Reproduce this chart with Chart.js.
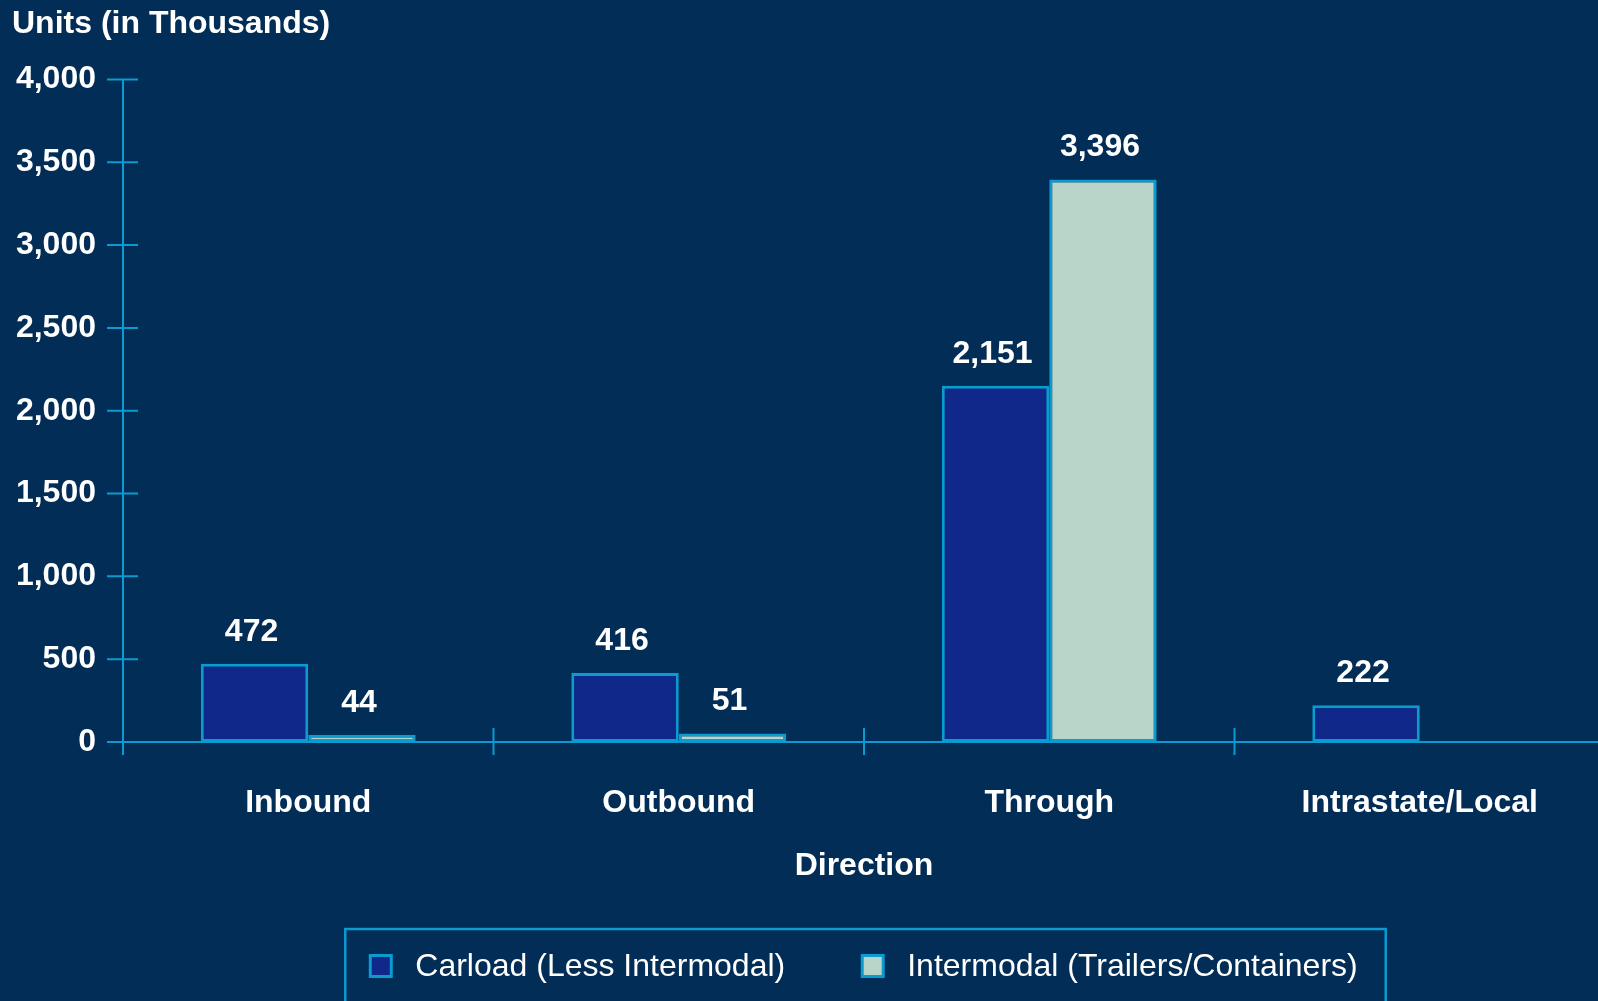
<!DOCTYPE html>
<html>
<head>
<meta charset="utf-8">
<script src="https://cdn.jsdelivr.net/npm/chart.js@4/dist/chart.umd.min.js"></script>
<style>
  html, body { margin: 0; padding: 0; background: #022d56; overflow: hidden; }
  #wrap { width: 1598px; height: 1001px; overflow: hidden; }
</style>
</head>
<body>
<div id="wrap"><canvas id="chart" width="1605" height="1001"></canvas></div>
<script>
// data
const categories = ["Inbound", "Outbound", "Through", "Intrastate/Local"];
const seriesNames = ["Carload (Less Intermodal)", "Intermodal (Trailers/Containers)"];
const carload = [472, 416, 2151, 222];
const intermodal = [44, 51, 3396, null];
const yMax = 4000;
const yStep = 500;

const lineColor = "#0a9bd0";
const barColors = ["#10288a", "#b9d5ca"];
const fontFamily = "'Liberation Sans', Arial, sans-serif";

function fmt(v) {
  return Number(v).toLocaleString("en-US");
}

// axis lines with ticks crossing them, like the original
const axesPlugin = {
  id: "axesPlugin",
  beforeDatasetsDraw(chart) {
    const ctx = chart.ctx;
    const area = chart.chartArea;
    const y = chart.scales.y;
    const x = chart.scales.x;
    const y0 = y.getPixelForValue(0);
    ctx.save();
    ctx.strokeStyle = lineColor;
    ctx.lineWidth = 2;
    ctx.beginPath();
    ctx.moveTo(area.left, y.getPixelForValue(yMax));
    ctx.lineTo(area.left, y0 + 13);
    ctx.moveTo(area.left, y0);
    ctx.lineTo(chart.width, y0);
    for (let v = 0; v <= yMax; v += yStep) {
      const py = y.getPixelForValue(v);
      ctx.moveTo(area.left - 16, py);
      ctx.lineTo(area.left + 15, py);
    }
    for (let i = 1; i < categories.length; i++) {
      const px = (x.getPixelForValue(i - 1) + x.getPixelForValue(i)) / 2;
      ctx.moveTo(px, y0 - 14);
      ctx.lineTo(px, y0 + 13);
    }
    ctx.stroke();
    ctx.restore();
  }
};

// value labels over the bars
const valueLabels = {
  id: "valueLabels",
  afterDatasetsDraw(chart) {
    const ctx = chart.ctx;
    ctx.save();
    ctx.fillStyle = "#ffffff";
    ctx.font = "bold 32px " + fontFamily;
    ctx.textAlign = "center";
    ctx.textBaseline = "middle";
    chart.data.datasets.forEach((ds, i) => {
      const meta = chart.getDatasetMeta(i);
      meta.data.forEach((bar, j) => {
        if (ds.data[j] == null) return;
        ctx.fillText(fmt(ds.data[j]), bar.x - 3, bar.y - 32);
      });
    });
    ctx.restore();
  }
};

// boxed legend at the bottom
const boxLegend = {
  id: "boxLegend",
  afterDraw(chart) {
    const ctx = chart.ctx;
    const area = chart.chartArea;
    ctx.save();
    ctx.font = "32px " + fontFamily;
    const sq = 21, gapText = 24, gapItem = 77, padL = 25, padR = 28;
    const w1 = ctx.measureText(seriesNames[0]).width;
    const w2 = ctx.measureText(seriesNames[1]).width;
    const total = sq + gapText + w1 + gapItem + sq + gapText + w2;
    const cx = (area.left + area.right) / 2;
    const left = cx - total / 2;
    const cy = 966;

    ctx.strokeStyle = lineColor;
    ctx.lineWidth = 2.5;
    ctx.strokeRect(left - padL, 929, total + padL + padR, 90);

    let px = left;
    [w1, w2].forEach((w, i) => {
      ctx.fillStyle = barColors[i];
      ctx.fillRect(px, cy - sq / 2, sq, sq);
      ctx.lineWidth = 3;
      ctx.strokeRect(px, cy - sq / 2, sq, sq);
      px += sq + gapText;
      ctx.fillStyle = "#ffffff";
      ctx.textAlign = "left";
      ctx.textBaseline = "middle";
      ctx.fillText(seriesNames[i], px, cy + 1);
      px += w + gapItem;
    });
    ctx.restore();
  }
};

new Chart(document.getElementById("chart"), {
  type: "bar",
  data: {
    labels: categories,
    datasets: [
      {
        label: seriesNames[0],
        data: carload,
        backgroundColor: barColors[0],
        borderColor: lineColor,
        borderWidth: 3,
        borderSkipped: false,
      },
      {
        label: seriesNames[1],
        data: intermodal,
        backgroundColor: barColors[1],
        borderColor: lineColor,
        borderWidth: 3,
        borderSkipped: false,
      },
    ],
  },
  options: {
    responsive: false,
    animation: false,
    devicePixelRatio: 1,
    layout: { padding: { left: 12, right: 0, top: 0, bottom: 109 } },
    datasets: { bar: { categoryPercentage: 0.58, barPercentage: 1.0 } },
    plugins: {
      legend: { display: false },
      tooltip: { enabled: false },
      title: {
        display: true,
        text: "Units (in Thousands)",
        align: "start",
        color: "#ffffff",
        font: { family: fontFamily, size: 32, weight: "bold" },
        padding: { top: 5, bottom: 36 },
      },
    },
    scales: {
      x: {
        afterFit(scale) { scale.height = 150; },
        grid: { display: false, drawTicks: false, tickLength: 0 },
        border: { display: false },
        ticks: {
          color: "#ffffff",
          padding: 42,
          font: { family: fontFamily, size: 32, weight: "bold" },
        },
        title: {
          display: true,
          text: "Direction",
          color: "#ffffff",
          font: { family: fontFamily, size: 32, weight: "bold" },
          padding: { top: 22, bottom: 7 },
        },
      },
      y: {
        min: 0,
        max: yMax,
        afterFit(scale) { scale.width = 111; },
        grid: { display: false, drawTicks: false, tickLength: 0 },
        border: { display: false },
        ticks: {
          stepSize: yStep,
          color: "#ffffff",
          padding: 27,
          font: { family: fontFamily, size: 32, weight: "bold" },
          callback: (v) => fmt(v),
        },
      },
    },
  },
  plugins: [axesPlugin, valueLabels, boxLegend],
});
</script>
</body>
</html>
